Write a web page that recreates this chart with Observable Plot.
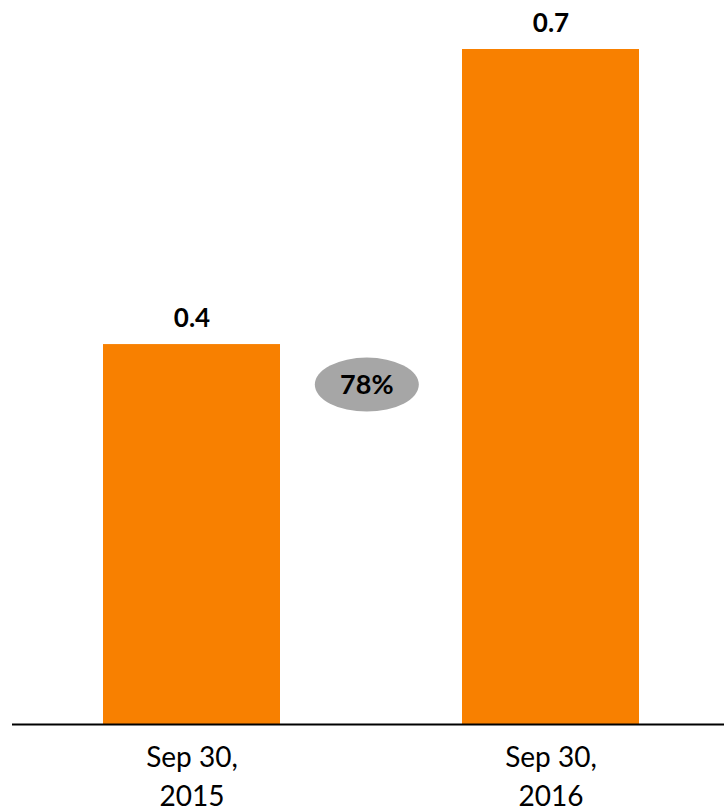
<!DOCTYPE html>
<html>
<head>
<meta charset="utf-8">
<script src="https://cdn.jsdelivr.net/npm/d3@7"></script>
<script src="https://cdn.jsdelivr.net/npm/@observablehq/plot@0.6"></script>
<style>
  html, body { margin: 0; padding: 0; background: #fff; }
  #chart svg { display: block; }
</style>
</head>
<body>
<div id="chart"></div>
<script>
// Data
const categories = ["Sep 30,\n2015", "Sep 30,\n2016"];
const values = [0.394, 0.70];
const valueLabels = ["0.4", "0.7"];
const growthLabel = "78%";
const growthLevel = 0.352;

const data = categories.map((c, i) => ({cat: c, value: values[i], label: valueLabels[i]}));

const barColor = "#F88000";
const font = "Lato, 'Open Sans', sans-serif";
const paddingInner = 0.508;

function badgeRender(index, scales, values) {
  let bw = scales.x && scales.x.bandwidth;
  if (!(bw > 0)) bw = (values.x[1] - values.x[0]) * (1 - paddingInner);
  const cx = (values.x[0] + values.x[1] + bw) / 2 - 4;
  const cy = values.y[0];
  const g = d3.create("svg:g");
  g.append("ellipse")
    .attr("cx", cx).attr("cy", cy)
    .attr("rx", 52).attr("ry", 27)
    .attr("fill", "#A6A6A6");
  g.append("text")
    .attr("x", cx).attr("y", cy)
    .attr("dy", "0.35em")
    .attr("text-anchor", "middle")
    .attr("font-family", font)
    .attr("font-weight", "bold")
    .attr("font-size", 27)
    .attr("fill", "#000")
    .text(growthLabel);
  return g.node();
}

const chart = Plot.plot({
  width: 724,
  height: 811,
  marginLeft: 12,
  marginRight: 0,
  marginTop: 49,
  marginBottom: 87,
  style: {fontFamily: font, background: "#fff"},
  x: {domain: categories, range: [12, 730], paddingInner: paddingInner, paddingOuter: 0.253},
  y: {domain: [0, 0.7], axis: null},
  marks: [
    Plot.barY(data, {x: "cat", y: "value", fill: barColor}),
    Plot.ruleY([0], {stroke: "#000", strokeWidth: 2}),
    Plot.text(data, {x: "cat", y: "value", text: "label", lineAnchor: "bottom", dy: -18,
      fontWeight: "bold", fontSize: 26, fill: "#000"}),
    Plot.axisX({tickSize: 0, tickPadding: 15, fontSize: 28, lineHeight: 1.38, color: "#000", tickFormat: d => d, label: null}),
    Plot.dot(data, {x: "cat", y: () => growthLevel, render: badgeRender})
  ]
});

document.getElementById("chart").appendChild(chart);
</script>
</body>
</html>
